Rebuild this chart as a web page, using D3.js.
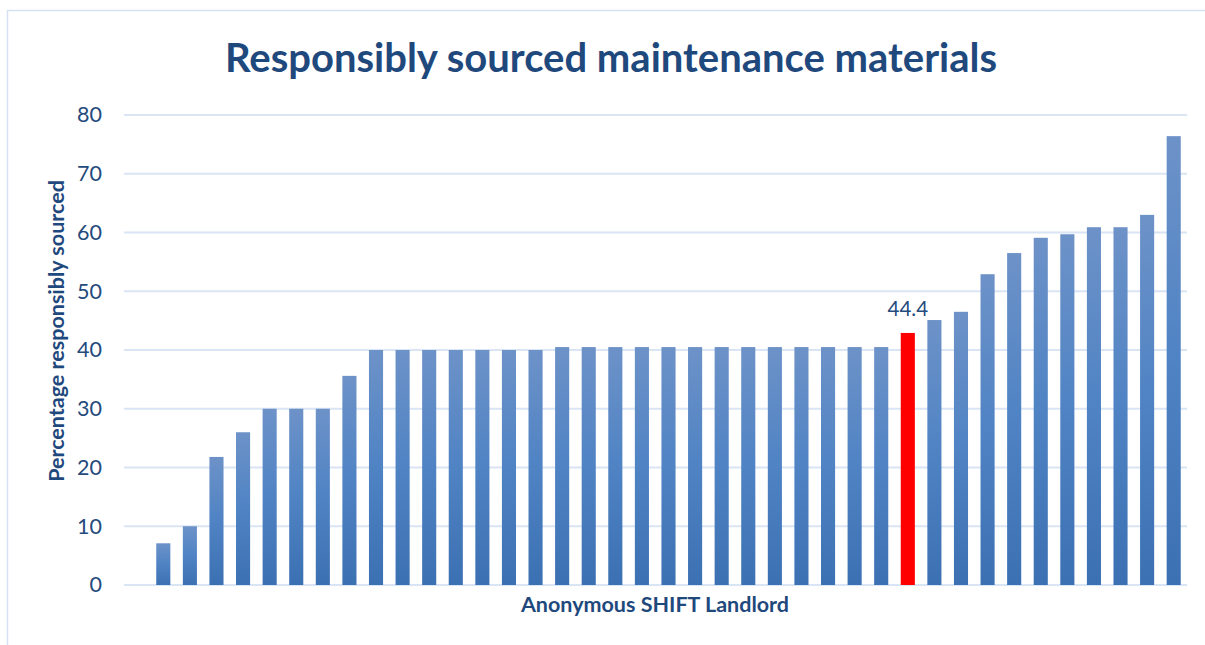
<!DOCTYPE html>
<html>
  <head>
    <meta charset="utf-8">
    <title>Responsibly sourced maintenance materials</title>
    <style>
body {
  margin: 0;
  background: #fff;
  font-family: Lato, "Open Sans", sans-serif;
}
    </style>
  </head>
  <body>
    <div id="chart"></div>
    <script src="https://cdn.jsdelivr.net/npm/d3@7"></script>
    <script>

    // one value per landlord, sorted ascending
    var values = [7.1, 10.0, 21.8, 26.0, 30.0, 30.0, 30.0, 35.6,
                  40.0, 40.0, 40.0, 40.0, 40.0, 40.0, 40.0,
                  40.5, 40.5, 40.5, 40.5, 40.5, 40.5, 40.5, 40.5, 40.5, 40.5, 40.5, 40.5, 40.5,
                  42.9,
                  45.1, 46.5, 52.9, 56.5, 59.1, 59.7, 60.9, 60.9, 63.0, 76.4];
    var highlightIndex = 28;
    var highlightLabel = '44.4';
    var yTicks = [0, 10, 20, 30, 40, 50, 60, 70, 80];

    var textColor = '#254a7c',
        gridColor = '#d9e4f4';

    var svg = d3.select('#chart').append('svg')
        .attr('width', 1205)
        .attr('height', 645);

    var defs = svg.append('defs');
    var grad = defs.append('linearGradient')
        .attr('id', 'barGrad')
        .attr('x1', 0).attr('y1', 0)
        .attr('x2', 0).attr('y2', 1);
    grad.append('stop').attr('offset', '0%').attr('stop-color', '#6d92c8');
    grad.append('stop').attr('offset', '50%').attr('stop-color', '#4f83c4');
    grad.append('stop').attr('offset', '100%').attr('stop-color', '#3b70b2');

    // chart frame
    svg.append('rect')
        .attr('x', 7.5)
        .attr('y', 10.5)
        .attr('width', 1300)
        .attr('height', 700)
        .style('fill', 'none')
        .style('stroke', '#d6e2f2')
        .style('stroke-width', 1.5);

    var y = d3.scaleLinear().domain([0, 80]).range([585, 115]);
    var x = d3.scaleBand()
        .domain(d3.range(values.length))
        .range([150, 1187])
        .paddingInner(0.47)
        .paddingOuter(0.235);

    // gridlines
    svg.append('g').selectAll('line')
        .data(yTicks)
        .enter()
        .append('line')
            .attr('x1', 124)
            .attr('x2', 1187)
            .attr('y1', function(d) { return y(d); })
            .attr('y2', function(d) { return y(d); })
            .style('stroke', gridColor)
            .style('stroke-width', 2);

    // y axis labels
    var yAxis = svg.append('g')
        .attr('transform', 'translate(102,0)')
        .call(d3.axisLeft(y).tickValues(yTicks).tickSize(0).tickPadding(0));
    yAxis.select('.domain').remove();
    yAxis.selectAll('text')
        .style('font-family', 'Lato, "Open Sans", sans-serif')
        .style('font-size', '21.5px')
        .style('fill', textColor);

    // bars
    svg.append('g').selectAll('rect')
        .data(values)
        .enter()
        .append('rect')
            .attr('x', function(d, i) { return x(i); })
            .attr('width', x.bandwidth())
            .attr('y', function(d) { return y(d); })
            .attr('height', function(d) { return y(0) - y(d); })
            .style('fill', function(d, i) { return i == highlightIndex ? '#ff0000' : 'url(#barGrad)'; });

    // label over the highlighted bar
    svg.append('text')
        .attr('x', x(highlightIndex) + x.bandwidth() / 2)
        .attr('y', y(values[highlightIndex]) - 17)
        .attr('text-anchor', 'middle')
        .style('font-size', '20.5px')
        .style('fill', textColor)
        .text(highlightLabel);

    // title
    svg.append('text')
        .attr('x', 611)
        .attr('y', 72)
        .attr('text-anchor', 'middle')
        .style('font-size', '40px')
        .style('font-weight', 'bold')
        .style('fill', '#1f497d')
        .text('Responsibly sourced maintenance materials');

    // axis titles
    svg.append('text')
        .attr('x', 655)
        .attr('y', 612)
        .attr('text-anchor', 'middle')
        .style('font-size', '21.5px')
        .style('font-weight', 'bold')
        .style('fill', '#1f497d')
        .text('Anonymous SHIFT Landlord');

    svg.append('text')
        .attr('transform', 'translate(64,331) rotate(-90)')
        .attr('text-anchor', 'middle')
        .style('font-size', '21.5px')
        .style('font-weight', 'bold')
        .style('fill', '#1f497d')
        .text('Percentage responsibly sourced');

    </script>
  </body>
</html>
